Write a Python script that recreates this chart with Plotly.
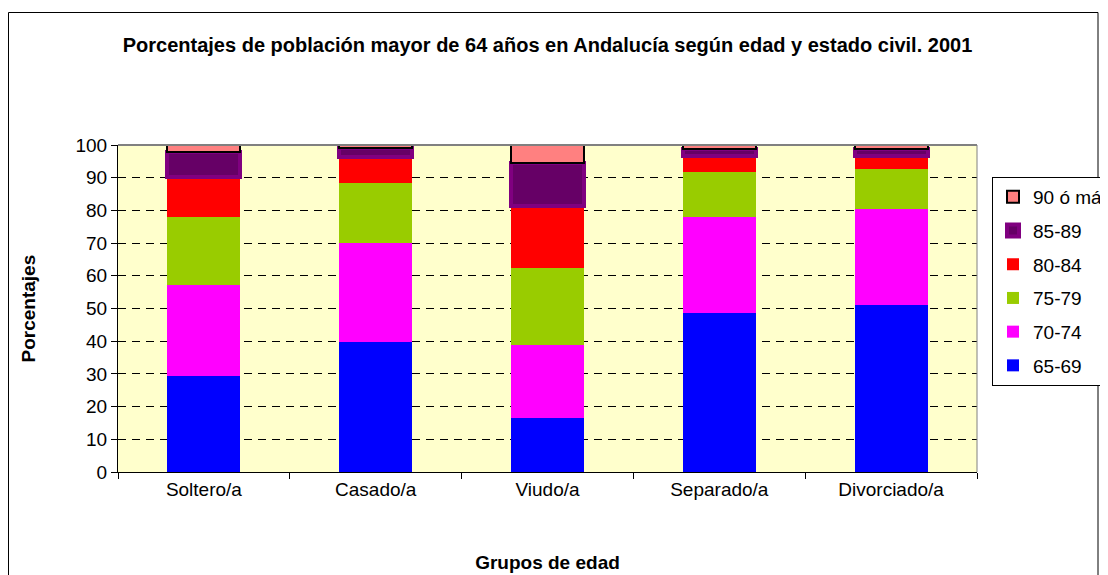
import plotly.graph_objects as go

categories = ["Soltero/a", "Casado/a", "Viudo/a", "Separado/a", "Divorciado/a"]
v65_69 = [29.3, 39.7, 16.6, 48.5, 51.0]
v70_74 = [27.8, 30.4, 22.2, 29.6, 29.3]
v75_79 = [21.0, 18.2, 23.6, 13.7, 12.4]
v80_84 = [12.1, 7.9, 19.0, 4.9, 4.0]
v85_89 = [7.8, 2.8, 13.0, 2.1, 2.1]
v90_mas = [2.1, 1.0, 5.6, 1.2, 1.2]

series = [
    ("65-69", v65_69, "#0000FF", "#0000FF", 0),
    ("70-74", v70_74, "#FF00FF", "#FF00FF", 0),
    ("75-79", v75_79, "#99CC00", "#99CC00", 0),
    ("80-84", v80_84, "#FF0000", "#FF0000", 0),
    ("85-89", v85_89, "#660066", "#800080", 4),
    ("90 ó más", v90_mas, "#FF8080", "#000000", 2),
]

# page offset of 8px (body margin) -> figure coordinates
OFF = 8
W, H = 1100, 567
L, R, T, B = 110, 131, 137, 103
pw, ph = W - L - R, H - T - B

def px_x(p):
    return (p - OFF - L) / pw

def px_y(p):
    return (H - B - (p - OFF)) / ph

fig = go.Figure()
n = len(series)
for i, (name, vals, fill, line, lw) in enumerate(series):
    fig.add_trace(go.Bar(
        x=categories, y=vals, name=name, legendgroup=name,
        legendrank=n - i,
        marker=dict(color=fill, line=dict(color=line, width=lw)),
        width=0.425,
    ))

font = "Liberation Sans, Arial, sans-serif"
fig.update_layout(
    width=W, height=H,
    margin=dict(l=L, r=R, t=T, b=B, autoexpand=False),
    barmode="stack",
    paper_bgcolor="white",
    plot_bgcolor="#FFFFCC",
    font=dict(family=font, size=19, color="black"),
    title=dict(
        text="<b>Porcentajes de población mayor de 64 años en Andalucía según edad y estado civil. 2001</b>",
        x=0.5, xref="paper", xanchor="center",
        y=1 - (45 - OFF) / H, yref="container", yanchor="middle",
        font=dict(family=font, size=20, color="black"),
    ),
    legend=dict(
        x=px_x(992), y=px_y(177), xanchor="left", yanchor="top",
        xref="paper", yref="paper",
        traceorder="grouped",
        tracegroupgap=6,
        bordercolor="black", borderwidth=1,
        bgcolor="white",
        font=dict(family=font, size=19),
    ),
    showlegend=True,
    annotations=[dict(
        text="<b>Porcentajes</b>", textangle=-90,
        xref="paper", yref="paper", x=px_x(28), y=0.5,
        xanchor="center", yanchor="middle", showarrow=False,
        font=dict(family=font, size=19, color="black"),
    )],
)

fig.update_xaxes(
    showline=True, linecolor="black", linewidth=1,
    ticks="outside", tickson="boundaries", ticklen=6, tickcolor="black",
    tickfont=dict(size=19),
    title=dict(text="<b>Grupos de edad</b>", font=dict(size=19), standoff=56),
    showgrid=False,
)
fig.update_yaxes(
    range=[0, 100], dtick=10, tick0=0,
    showline=True, linecolor="black", linewidth=1,
    ticks="outside", ticklen=6, tickcolor="black",
    tickfont=dict(size=19),
    showgrid=True, gridcolor="black", gridwidth=1, griddash="8px,6px",
    zeroline=False,
)

# plot area border (gray top/right)
fig.add_shape(type="line", xref="paper", yref="paper", x0=0, x1=1, y0=1, y1=1,
              line=dict(color="#808080", width=2), layer="above")
fig.add_shape(type="line", xref="paper", yref="paper", x0=1, x1=1, y0=0, y1=1,
              line=dict(color="#808080", width=1), layer="above")
# outer chart border
fig.add_shape(type="rect", xref="paper", yref="paper",
              x0=px_x(8.5), x1=px_x(1098), y0=px_y(620), y1=px_y(12.5),
              line=dict(color="black", width=1), layer="below")

fig.write_html("out.html")
